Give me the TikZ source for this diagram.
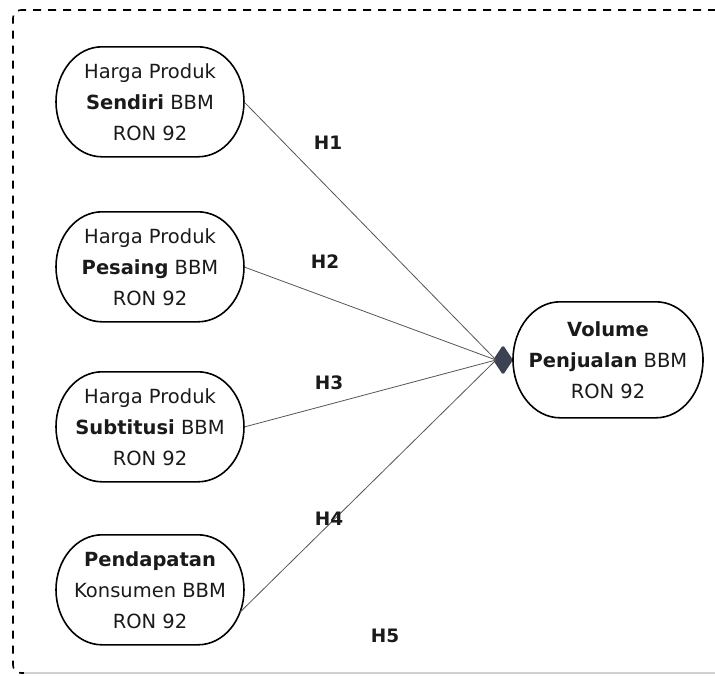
\documentclass[tikz,border=0pt]{standalone}
\usepackage{fontspec}
\setmainfont{DejaVu Sans}
\usetikzlibrary{calc}
\definecolor{txt}{HTML}{1A1A1A}
\definecolor{edgec}{HTML}{555555}
\definecolor{arrowc}{HTML}{3B4252}
\tikzset{
  var/.style={draw=none, minimum width=188pt,
    minimum height=110pt, align=center, inner sep=0pt, text=txt,
    font=\fontsize{19.5}{31}\selectfont},
  outline/.style={draw=black, line width=1.6pt},
  edge/.style={draw=edgec, line width=0.8pt},
  hlabel/.style={font=\fontsize{18.5}{20}\selectfont\bfseries, text=txt},
  frame/.style={draw=black, line width=1.6pt, dash pattern=on 8pt off 7pt},
}
\begin{document}
\begin{tikzpicture}[x=1pt,y=-1pt]
\useasboundingbox (0,0) rectangle (715,675);
% frame
\draw[frame, rounded corners=8pt] (716,10) -- (13,10) -- (13,673) -- (24,673);
\draw[black!18, line width=1.2pt] (24,673) -- (715,673);
% nodes
\node[var] (n1) at (150,102) {Harga Produk\\\textbf{Sendiri} BBM\\RON 92};
\node[var] (n2) at (150,267) {Harga Produk\\\textbf{Pesaing} BBM\\RON 92};
\node[var] (n3) at (150,427) {Harga Produk\\\textbf{Subtitusi} BBM\\RON 92};
\node[var] (n4) at (150,590) {\textbf{Pendapatan}\\Konsumen BBM\\RON 92};
\node[var, minimum width=190pt, minimum height=116pt] (y) at (608,360) {\textbf{Volume}\\\textbf{Penjualan} BBM\\RON 92};
\foreach \n in {n1,n2,n3,n4}{
  \draw[outline] ($(\n.north)+(-48pt,0pt)$) -- ++(96pt,0pt)
    arc[start angle=90, end angle=-90, x radius=46pt, y radius=55pt]
    -- ++(-96pt,0pt)
    arc[start angle=270, end angle=90, x radius=46pt, y radius=55pt] -- cycle;
}
\draw[outline] ($(y.north)+(-48pt,0pt)$) -- ++(96pt,0pt)
    arc[start angle=90, end angle=-90, x radius=47pt, y radius=58pt]
    -- ++(-96pt,0pt)
    arc[start angle=270, end angle=90, x radius=47pt, y radius=58pt] -- cycle;
% arrowhead (diamond)
\coordinate (tip) at (496,360);
\fill[arrowc, rounded corners=2.5pt] (513,360) -- (503,345) -- (493,360) -- (503,375) -- cycle;
% edges
\draw[edge] (n1.east) -- (tip);
\draw[edge] (n2.east) -- (tip);
\draw[edge] (n3.east) -- (tip);
\draw[edge] ([xshift=-4pt,yshift=-22pt]n4.east) -- (tip);
% labels
\node[hlabel] (h1) at (328,143) {H1};
\node[hlabel] (h2) at (325,262) {H2};
\node[hlabel] (h3) at (329,383) {H3};
\node[hlabel] (h4) at (329,519) {H4};
\node[hlabel] (h5) at (385,636) {H5};
\end{tikzpicture}
\end{document}
